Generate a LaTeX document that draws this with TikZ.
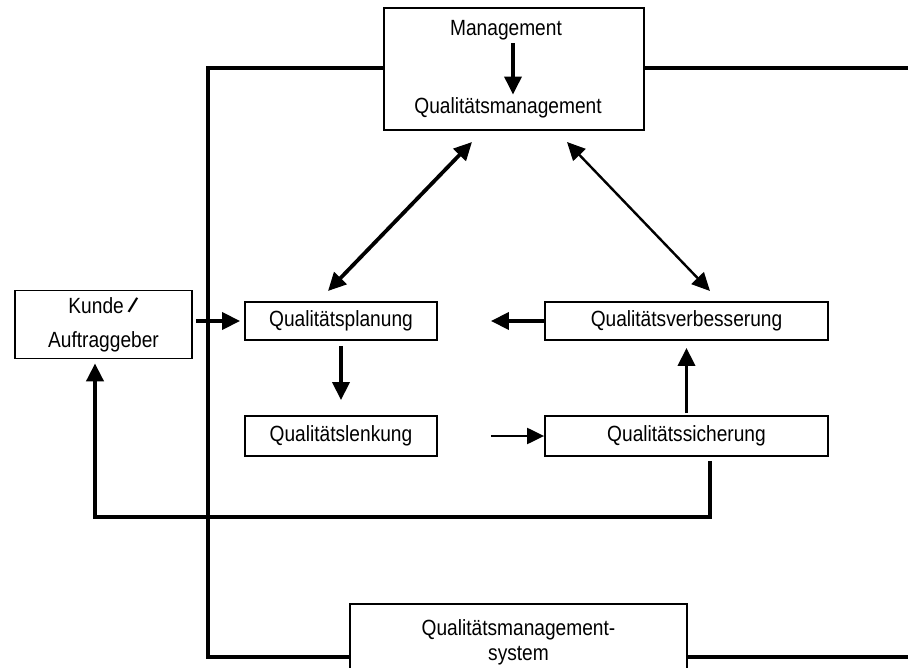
\documentclass[tikz,border=0pt]{standalone}
\usepackage{fontspec}
\setmainfont{Liberation Sans}[FakeStretch=0.87]
\usetikzlibrary{arrows.meta}
\begin{document}
\begin{tikzpicture}[x=1pt,y=-1pt,
  box/.style={draw, line width=1.8pt, inner sep=0pt, align=center, font=\fontsize{22}{25}\selectfont},
  txt/.style={inner sep=0pt, font=\fontsize{22}{25}\selectfont},
  frame/.style={line width=4pt},
  arr/.style={line width=3.5pt, -{Triangle[length=18pt,width=17pt]}},
  thinarr/.style={line width=2.2pt, -{Triangle[length=17pt,width=16pt]}},
  darr/.style={line width=3.8pt, {Triangle[length=18pt,width=17pt]}-{Triangle[length=18pt,width=17pt]}},
  darrthin/.style={line width=2.4pt, {Triangle[length=18pt,width=17pt]}-{Triangle[length=18pt,width=17pt]}}]
\useasboundingbox (0,0) rectangle (908,668);
\clip (0,0) rectangle (908,668);
\fill[white] (0,0) rectangle (908,668);

% boxes
\node[box, minimum width=260pt, minimum height=122pt] (top) at (514,69) {};
\node[txt] (mg) at (506,30) {Management};
\node[txt] (qm) at (508,108) {Qualitätsmanagement};
\node[box, minimum width=177pt, minimum height=68pt, font=\fontsize{22}{34}\selectfont] (kunde) at (103.5,324.5) {Kunde\,\rotatebox[origin=c]{-22}{\textbf{/}}\\Auftraggeber};
\node[box, minimum width=192pt, minimum height=38pt] (qp) at (341,321) {Qualitätsplanung};
\node[box, minimum width=283pt, minimum height=38pt] (qv) at (686.5,321) {Qualitätsverbesserung};
\node[box, minimum width=192pt, minimum height=40pt] (ql) at (341,436) {Qualitätslenkung};
\node[box, minimum width=283pt, minimum height=40pt] (qs) at (686.5,436) {Qualitätssicherung};
\node[box, minimum width=337pt, minimum height=76pt] (qms) at (518.5,642) {Qualitätsmanagement-\\system};

% frame lines
\coordinate (tl) at (208,68);
\coordinate (bl) at (208,657);
\coordinate (tr) at (908,68);
\coordinate (br) at (908,657);
\draw[frame] (top.west |- tl) -- (tl) -- (bl) -- (qms.west |- bl);
\draw[frame] (top.east |- tr) -- (tr);
\draw[frame] (qms.east |- br) -- (br);

% arrows
\draw[arr] ([xshift=7pt,yshift=-3pt]mg.south) -- ([xshift=5pt,yshift=3pt]qm.north);
\draw[arr, shorten <=3pt, shorten >=4pt] (kunde.east |- qp.west) -- (qp.west);
\draw[arr, shorten >=53pt] (qv.west) -- (qp.east);
\draw[arr, shorten <=5pt, shorten >=15pt] (qp.south) -- (ql.north);
\draw[thinarr, shorten <=53pt] (ql.east) -- (qs.east -| qs.west);
\draw[arr, shorten <=2pt, shorten >=7pt] (qs.north) -- (qv.south);
\coordinate (d1) at (472,142);
\coordinate (d2) at (328,291);
\coordinate (d3) at (567,142);
\coordinate (d4) at (710,291);
\draw[darr] (d1) -- (d2);
\draw[darrthin] (d3) -- (d4);

% feedback to customer
\coordinate (f1) at (710,517);
\coordinate (f2) at (95,517);
\draw[arr, line width=4pt, shorten <=4pt, shorten >=4pt] (qs.south -| f1) -- (f1) -- (f2) -- (kunde.south -| f2);
\end{tikzpicture}
\end{document}
